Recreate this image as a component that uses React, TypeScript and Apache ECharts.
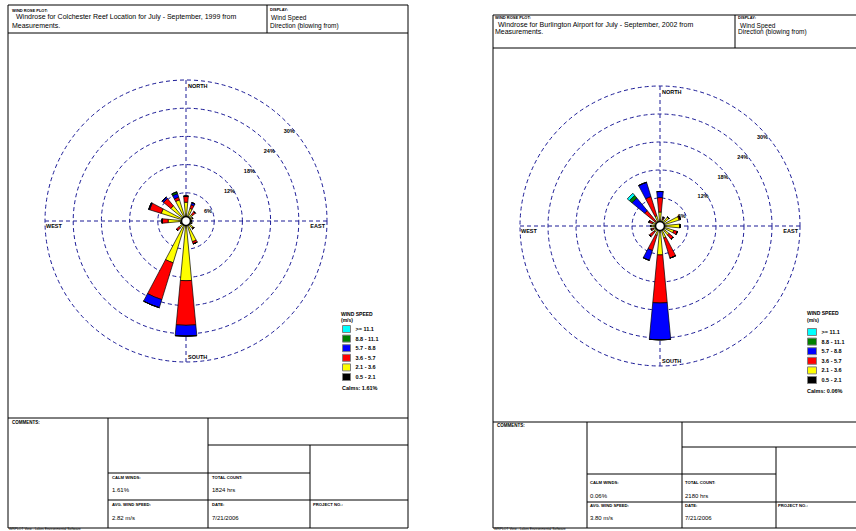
import React, { useEffect, useRef } from "react";
import * as echarts from "echarts";

const FONT = '"Liberation Sans", Arial, sans-serif';

const directions = ["N", "NNE", "NE", "ENE", "E", "ESE", "SE", "SSE", "S", "SSW", "SW", "WSW", "W", "WNW", "NW", "NNW"];
const speedClasses = ["0.5 - 2.1", "2.1 - 3.6", "3.6 - 5.7", "5.7 - 8.8", "8.8 - 11.1", ">= 11.1"];
const speedColors = ["#000000", "#ffff00", "#ff0000", "#0000ff", "#008000", "#00ffff"];
const ringValues = [6, 12, 18, 24, 30];
const ringLabels = ["6%", "12%", "18%", "24%", "30%"];

// Colchester Reef (% of hours), directions N..NNW, one array per speed class
const colchesterClass1 = [0.6, 0.5, 0.4, 0.4, 0.6, 0.4, 0.5, 0.5, 0.6, 0.5, 0.5, 0.4, 0.5, 0.5, 0.5, 0.5];
const colchesterClass2 = [3.4, 2.3, 1.4, 1.1, 0.6, 0.9, 1.5, 4.1, 12.1, 8.8, 1.4, 0.7, 3.3, 5.0, 3.7, 4.2];
const colchesterClass3 = [1.3, 0.8, 0.8, 0, 0, 0, 0.2, 0.5, 9.5, 8.2, 0.8, 0.1, 1.3, 2.6, 2.0, 0.6];
const colchesterClass4 = [0, 0.5, 0, 0, 0, 0, 0, 0, 2.3, 1.8, 0, 0, 0, 0.2, 0.4, 0.8];
const colchesterClass5 = [0, 0, 0, 0, 0, 0, 0, 0, 0, 0, 0, 0, 0, 0, 0, 0.4];
const colchesterClass6 = [0, 0, 0, 0, 0, 0, 0, 0, 0, 0, 0, 0, 0, 0, 0, 0];

// Burlington Airport (% of hours)
const burlingtonClass1 = [0.5, 0.5, 0.5, 0.5, 0.5, 0.5, 0.5, 0.5, 0.5, 0.5, 0.5, 0.5, 0.6, 0.5, 0.5, 0.5];
const burlingtonClass2 = [2.5, 1.0, 2.0, 3.8, 3.8, 2.6, 2.0, 2.2, 5.7, 1.6, 1.2, 1.0, 1.4, 1.2, 0.8, 1.8];
const burlingtonClass3 = [3.1, 0.3, 0, 0.3, 0, 0.8, 1.2, 4.5, 10.3, 3.4, 1.3, 0.5, 0, 0.8, 3.0, 4.3];
const burlingtonClass4 = [1.3, 0.2, 0, 0, 0, 0, 0, 0, 7.9, 2.2, 0, 0, 0, 0, 3.5, 3.2];
const burlingtonClass5 = [0, 0, 0, 0, 0, 0, 0, 0, 0, 0, 0, 0, 0, 0, 0.7, 0];
const burlingtonClass6 = [0, 0, 0, 0, 0, 0, 0, 0, 0, 0, 0, 0, 0, 0, 0.6, 0];

const colchesterInfo = {
  title: "Windrose for Colchester Reef Location for July - September, 1999 from",
  calms: "1.61%",
  count: "1824 hrs",
  avg: "2.82 m/s",
  date: "7/21/2006",
};
const burlingtonInfo = {
  title: "Windrose for Burlington Airport for July - September, 2002 from",
  calms: "0.06%",
  count: "2180 hrs",
  avg: "3.80 m/s",
  date: "7/21/2006",
};

const RING_COLOR = "#1a1a96";

export default function App() {
  const ref = useRef<HTMLDivElement>(null);
  useEffect(() => {
    const chart = echarts.init(ref.current!, null, { renderer: "svg" });
    const leftData = [colchesterClass1, colchesterClass2, colchesterClass3, colchesterClass4, colchesterClass5, colchesterClass6];
    const rightData = [burlingtonClass1, burlingtonClass2, burlingtonClass3, burlingtonClass4, burlingtonClass5, burlingtonClass6];

    const makeRose = (polarIndex: number, stack: string, data: number[][]) =>
      speedClasses.map((name, k) => ({
        type: "bar",
        name,
        coordinateSystem: "polar",
        polarIndex,
        stack,
        data: data[k],
        barWidth: "48%",
        silent: true,
        itemStyle: { color: speedColors[k], borderColor: "#000", borderWidth: 0.7 },
      }));

    const mainAngle = (polarIndex: number) => ({
      polarIndex,
      type: "category",
      data: directions,
      startAngle: 90 + 360 / directions.length / 2,
      clockwise: true,
      axisLine: { show: false },
      axisTick: { show: false },
      axisLabel: { show: false },
      splitLine: { show: false },
    });
    const mainRadius = (polarIndex: number) => ({
      polarIndex,
      type: "value",
      min: 0,
      max: 30,
      interval: 6,
      axisLine: { show: false },
      axisTick: { show: false },
      axisLabel: { show: false },
      splitLine: { show: true, lineStyle: { color: RING_COLOR, type: [4, 3], width: 1 } },
    });
    const helperAngle = (polarIndex: number) => ({
      polarIndex,
      type: "value",
      min: 0,
      max: 360,
      interval: 90,
      startAngle: 90,
      clockwise: true,
      axisLine: { show: false },
      axisTick: { show: false },
      axisLabel: { show: false },
      splitLine: { show: true, lineStyle: { color: RING_COLOR, type: [4, 3], width: 1 } },
    });
    const helperRadius = (polarIndex: number) => ({
      polarIndex,
      type: "value",
      min: 0,
      max: 30,
      axisLine: { show: false },
      axisTick: { show: false },
      axisLabel: { show: false },
      splitLine: { show: false },
    });

    const legendOrder = speedClasses.slice().reverse();
    const legendBase = {
      data: legendOrder,
      orient: "vertical",
      itemHeight: 7,
      itemGap: 1.6,
      padding: 0,
      icon: "rect",
      selectedMode: false,
      textStyle: { fontSize: 5.5, lineHeight: 7, fontWeight: "bold", fontFamily: FONT, color: "#000" },
      itemStyle: { borderColor: "#808080", borderWidth: 1 },
    };

    chart.setOption({
      animation: false,
      backgroundColor: "#fff",
      polar: [
        { center: [186, 221], radius: 141 },
        { center: [660, 226], radius: 140 },
        { center: [186, 221], radius: 141 },
        { center: [660, 226], radius: 140 },
      ],
      angleAxis: [mainAngle(0), mainAngle(1), helperAngle(2), helperAngle(3)],
      radiusAxis: [mainRadius(0), mainRadius(1), helperRadius(2), helperRadius(3)],
      legend: [
        { ...legendBase, left: 342, top: 325, itemWidth: 8 },
        { ...legendBase, left: 807, top: 328, itemWidth: 9 },
      ],
      series: [...makeRose(0, "colchester", leftData), ...makeRose(1, "burlington", rightData)],
    });

    const helperCenter: Record<number, number[]> = { 2: [186, 221], 3: [660, 226] };
    const helperR: Record<number, number> = { 2: 141, 3: 140 };
    const pt = (pi: number, r: number, a: number): number[] => {
      let p: any = null;
      try {
        p = chart.convertToPixel({ polarIndex: pi } as any, [r, a]);
      } catch (e) {
        p = null;
      }
      if (!p || isNaN(p[0])) {
        const rr = (r / 30) * helperR[pi];
        const rad = (a * Math.PI) / 180;
        p = [helperCenter[pi][0] + rr * Math.sin(rad), helperCenter[pi][1] - rr * Math.cos(rad)];
      }
      return p;
    };

    const line = (x1: number, y1: number, x2: number, y2: number) => ({
      type: "line",
      silent: true,
      shape: { x1, y1, x2, y2 },
      style: { stroke: "#000", lineWidth: 1 },
    });
    const rect = (x: number, y: number, width: number, height: number) => ({
      type: "rect",
      silent: true,
      shape: { x, y, width, height },
      style: { stroke: "#000", fill: "none", lineWidth: 1 },
    });
    const txt = (x: number, y: number, text: string, size: number, bold = false, align = "left") => ({
      type: "text",
      silent: true,
      x,
      y,
      z: 50,
      style: {
        text,
        fontSize: size,
        fontFamily: FONT,
        fontWeight: bold ? "bold" : "normal",
        fill: "#000",
        align,
        textAlign: align,
        verticalAlign: "middle",
        textVerticalAlign: "middle",
      },
    });

    const roseDecor = (pi: number) => {
      const els: any[] = [];
      const c = pt(pi, 0, 0);
      const n = pt(pi, 30, 0);
      const e = pt(pi, 30, 90);
      const s = pt(pi, 30, 180);
      const w = pt(pi, 30, 270);
      els.push(txt(n[0] + 2, n[1] + 5.5, "NORTH", 5.5, true));
      els.push(txt(s[0] + 2, s[1] - 5.5, "SOUTH", 5.5, true));
      els.push(txt(w[0] + 1, w[1] + 5, "WEST", 5.5, true));
      els.push(txt(e[0] - 2, e[1] + 5, "EAST", 5.5, true, "right"));
      ringValues.forEach((v, i) => {
        const p = pt(pi, v, 45);
        els.push(txt(p[0] - 2, p[1] + 10, ringLabels[i], 5.5, true));
      });
      els.push({
        type: "circle",
        silent: true,
        z: 100,
        shape: { cx: c[0], cy: c[1], r: 4.5 },
        style: { fill: "#fff", stroke: "#000", lineWidth: 1.5 },
      });
      return els;
    };

    const graphic: any[] = [
      // left frame
      rect(8, 5, 400, 523),
      line(8, 33, 408, 33),
      line(267, 5, 267, 33),
      line(8, 418, 408, 418),
      line(108, 418, 108, 528),
      line(208, 418, 208, 528),
      line(208, 445, 408, 445),
      line(310, 445, 310, 528),
      line(108, 473, 310, 473),
      line(108, 500, 408, 500),
      txt(12, 10, "WIND ROSE PLOT:", 4, true),
      txt(16, 16.5, colchesterInfo.title, 7),
      txt(12, 25, "Measurements.", 7),
      txt(270, 9.5, "DISPLAY:", 4, true),
      txt(271, 17.5, "Wind Speed", 6.5),
      txt(270, 25, "Direction (blowing from)", 6.5),
      txt(12, 422, "COMMENTS:", 4.5, true),
      txt(112, 477, "CALM WINDS:", 4.2, true),
      txt(112, 490, colchesterInfo.calms, 6),
      txt(212, 477, "TOTAL COUNT:", 4.2, true),
      txt(212, 490, colchesterInfo.count, 6),
      txt(112, 504, "AVG. WIND SPEED:", 4.2, true),
      txt(112, 518, colchesterInfo.avg, 6),
      txt(212, 504, "DATE:", 4.2, true),
      txt(212, 518, colchesterInfo.date, 6),
      txt(313, 504, "PROJECT NO.:", 4.2, true),
      txt(341, 314, "WIND SPEED", 5, true),
      txt(341, 320, "(m/s)", 5, true),
      txt(342, 388, "Calms: " + colchesterInfo.calms, 5.5, true),
      txt(9, 529.3, "WRPLOT View - Lakes Environmental Software", 3.4),
      // right frame
      rect(493, 15, 400, 513),
      line(493, 48, 893, 48),
      line(735, 15, 735, 48),
      line(493, 422, 893, 422),
      line(587, 422, 587, 528),
      line(682, 422, 682, 528),
      line(682, 447, 893, 447),
      line(776, 447, 776, 528),
      line(587, 474, 776, 474),
      line(587, 502, 893, 502),
      txt(495, 17, "WIND ROSE PLOT:", 4, true),
      txt(498, 24, burlingtonInfo.title, 7),
      txt(495, 31.5, "Measurements.", 7),
      txt(738, 17, "DISPLAY:", 4, true),
      txt(740, 25.5, "Wind Speed", 6.5),
      txt(738, 31.5, "Direction (blowing from)", 6.5),
      txt(497, 425, "COMMENTS:", 4.5, true),
      txt(590, 482, "CALM WINDS:", 4.2, true),
      txt(590, 496, burlingtonInfo.calms, 6),
      txt(685, 482, "TOTAL COUNT:", 4.2, true),
      txt(685, 496, burlingtonInfo.count, 6),
      txt(590, 505, "AVG. WIND SPEED:", 4.2, true),
      txt(590, 518, burlingtonInfo.avg, 6),
      txt(685, 505, "DATE:", 4.2, true),
      txt(685, 518, burlingtonInfo.date, 6),
      txt(778, 505, "PROJECT NO.:", 4.2, true),
      txt(807, 313, "WIND SPEED", 5, true),
      txt(807, 320, "(m/s)", 5, true),
      txt(807, 391, "Calms: " + burlingtonInfo.calms, 5.5, true),
      txt(494, 529.3, "WRPLOT View - Lakes Environmental Software", 3.4),
      ...roseDecor(2),
      ...roseDecor(3),
    ];

    chart.setOption({ graphic });
    return () => chart.dispose();
  }, []);
  return (
    <div
      ref={ref}
      style={{ position: "absolute", left: 0, top: 0, width: 856, height: 531, background: "#fff" }}
    />
  );
}
